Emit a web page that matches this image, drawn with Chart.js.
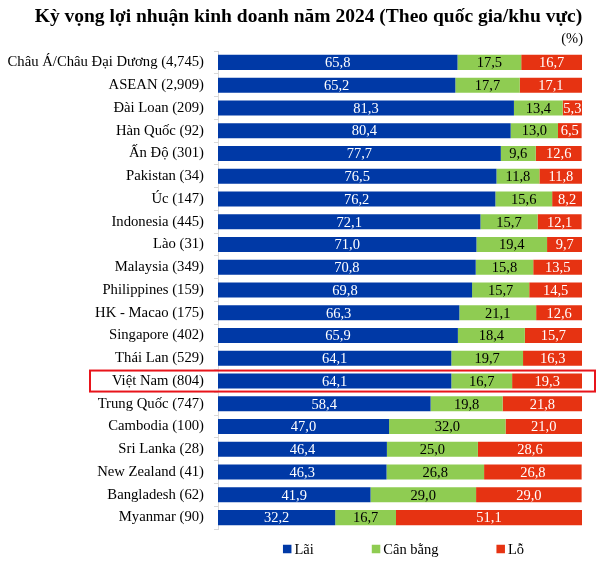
<!DOCTYPE html>
<html>
<head>
<meta charset="utf-8">
<script src="https://cdn.jsdelivr.net/npm/chart.js@4/dist/chart.umd.min.js"></script>
<style>
  html, body { margin: 0; padding: 0; background: #fff; }
  #wrap { width: 601px; height: 563px; position: relative; }
</style>
</head>
<body>
<div id="wrap"><canvas id="c" width="601" height="563"></canvas></div>
<script>
const categories = [
  'Châu Á/Châu Đại Dương (4,745)', 'ASEAN (2,909)', 'Đài Loan (209)', 'Hàn Quốc (92)',
  'Ấn Độ (301)', 'Pakistan (34)', 'Úc (147)', 'Indonesia (445)', 'Lào (31)',
  'Malaysia (349)', 'Philippines (159)', 'HK - Macao (175)', 'Singapore (402)',
  'Thái Lan (529)', 'Việt Nam (804)', 'Trung Quốc (747)', 'Cambodia (100)',
  'Sri Lanka (28)', 'New Zealand (41)', 'Bangladesh (62)', 'Myanmar (90)'
];
const lai     = [65.8, 65.2, 81.3, 80.4, 77.7, 76.5, 76.2, 72.1, 71.0, 70.8, 69.8, 66.3, 65.9, 64.1, 64.1, 58.4, 47.0, 46.4, 46.3, 41.9, 32.2];
const canBang = [17.5, 17.7, 13.4, 13.0, 9.6, 11.8, 15.6, 15.7, 19.4, 15.8, 15.7, 21.1, 18.4, 19.7, 16.7, 19.8, 32.0, 25.0, 26.8, 29.0, 16.7];
const lo      = [16.7, 17.1, 5.3, 6.5, 12.6, 11.8, 8.2, 12.1, 9.7, 13.5, 14.5, 12.6, 15.7, 16.3, 19.3, 21.8, 21.0, 28.6, 26.8, 29.0, 51.1];
const seriesNames = ['Lãi', 'Cân bằng', 'Lỗ'];
const titleText = 'Kỳ vọng lợi nhuận kinh doanh năm 2024 (Theo quốc gia/khu vực)';
const unitText = '(%)';
const highlightCategory = 'Việt Nam (804)';

const SERIF = "'Liberation Serif', 'Times New Roman', serif";
const colors = ['#0039A6', '#8FCC52', '#E63312'];
const labelColors = ['#ffffff', '#000000', '#ffffff'];

const extras = {
  id: 'extras',
  afterDatasetsDraw(chart) {
    const ctx = chart.ctx;
    ctx.save();
    ctx.font = '14.5px ' + SERIF;
    ctx.textAlign = 'center';
    ctx.textBaseline = 'middle';
    chart.data.datasets.forEach((ds, di) => {
      const meta = chart.getDatasetMeta(di);
      meta.data.forEach((bar, i) => {
        const v = ds.data[i];
        const cx = (bar.x + bar.base) / 2;
        ctx.fillStyle = labelColors[di];
        ctx.fillText(v.toFixed(1).replace('.', ','), cx, bar.y + 1);
      });
    });
    ctx.restore();
  },
  afterDraw(chart) {
    const ctx = chart.ctx;
    const area = chart.chartArea;
    const ys = chart.scales.y;
    ctx.save();
    // title
    ctx.font = 'bold 19.5px ' + SERIF;
    ctx.fillStyle = '#000';
    ctx.textAlign = 'center';
    ctx.textBaseline = 'middle';
    ctx.fillText(titleText, 308.5, 17);
    // unit label
    ctx.font = '14.5px ' + SERIF;
    ctx.textAlign = 'right';
    ctx.fillText(unitText, area.right + 1, area.top - 12);
    // highlight box
    const hi = categories.indexOf(highlightCategory);
    const yc = ys.getPixelForValue(hi);
    ctx.strokeStyle = '#E8141B';
    ctx.lineWidth = 2;
    ctx.strokeRect(area.left - 128, yc - 10.5, (area.right + 13) - (area.left - 128), 21);
    // legend
    ctx.font = '14.5px ' + SERIF;
    ctx.textAlign = 'left';
    const ly = area.bottom + 20;
    const box = 8.5, gap = 3, spacing = 58;
    const widths = seriesNames.map(n => box + gap + ctx.measureText(n).width);
    const total = widths.reduce((a, b) => a + b, 0) + spacing * (seriesNames.length - 1);
    let x = 403.5 - total / 2;
    seriesNames.forEach((n, i) => {
      ctx.fillStyle = colors[i];
      ctx.fillRect(x, ly - box / 2, box, box);
      ctx.fillStyle = '#000';
      ctx.fillText(n, x + box + gap, ly + 1);
      x += widths[i] + spacing;
    });
    ctx.restore();
  }
};

new Chart(document.getElementById('c'), {
  type: 'bar',
  data: {
    labels: categories,
    datasets: [
      { label: seriesNames[0], data: lai, backgroundColor: colors[0] },
      { label: seriesNames[1], data: canBang, backgroundColor: colors[1] },
      { label: seriesNames[2], data: lo, backgroundColor: colors[2] }
    ]
  },
  options: {
    indexAxis: 'y',
    responsive: false,
    animation: false,
    devicePixelRatio: 1,
    layout: { padding: { left: 3, right: 19, top: 51, bottom: 34 } },
    datasets: { bar: { barPercentage: 0.66, categoryPercentage: 1.0, borderWidth: 0 } },
    scales: {
      x: { stacked: true, min: 0, max: 100, display: false },
      y: {
        stacked: true,
        afterFit(scale) { scale.width = 215; },
        grid: { drawOnChartArea: false, drawTicks: true, tickLength: 4, color: '#d9d9d9', offset: true },
        border: { display: true, color: '#d9d9d9' },
        ticks: { color: '#000', font: { family: SERIF, size: 14.7 }, padding: 10, autoSkip: false }
      }
    },
    plugins: {
      legend: { display: false },
      tooltip: { enabled: false },
      title: { display: false }
    }
  },
  plugins: [extras]
});
</script>
</body>
</html>
